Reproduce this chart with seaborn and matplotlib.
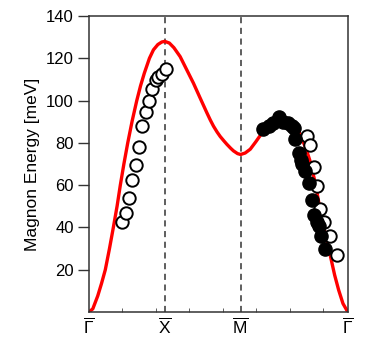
import numpy as np
import pandas as pd
import matplotlib
matplotlib.use('Agg')
import matplotlib.pyplot as plt
from matplotlib.ticker import MultipleLocator
import seaborn as sns

# 路径坐标：Γ=0, X=1, M=2, Γ=2+√2
sym_pos = [0.0, 1.0, 2.0, 3.414]
sym_labels = [r'$\overline{\Gamma}$', r'$\overline{\mathrm{X}}$', r'$\overline{\mathrm{M}}$', r'$\overline{\Gamma}$']

# 理论色散曲线
curve_q = [0.0, 0.05, 0.115, 0.165, 0.215, 0.27, 0.321, 0.37, 0.413, 0.46, 0.511, 0.57, 0.63,
           0.68, 0.73, 0.797, 0.85, 0.908, 0.96, 1.0,
           1.06, 1.12, 1.202, 1.29, 1.378, 1.466, 1.555, 1.60, 1.642, 1.69, 1.731, 1.78, 1.819,
           1.87, 1.906, 1.96, 2.0,
           2.06, 2.127, 2.2, 2.259, 2.33, 2.4, 2.48, 2.56, 2.63, 2.70, 2.765, 2.82, 2.87,
           2.919, 2.985, 3.042, 3.09, 3.14, 3.184, 3.24, 3.293, 3.35, 3.414]
curve_E = [0.0, 1.5, 7.6, 13.5, 20.0, 30.0, 40.0, 50.0, 60.0, 70.0, 80.0, 90.5, 100.0,
           107.0, 113.0, 120.0, 124.0, 126.5, 127.7, 128.0,
           127.2, 125.0, 120.8, 114.5, 108.2, 101.2, 94.2, 90.8, 87.9, 85.1, 83.0, 80.9, 79.3,
           77.4, 76.2, 74.9, 74.5,
           75.2, 77.0, 80.5, 83.5, 87.0, 89.8, 91.6, 92.2, 91.3, 89.0, 85.5, 81.0, 76.5,
           71.0, 61.0, 49.5, 41.0, 33.5, 26.5, 17.5, 10.4, 4.0, 0.0]

# 空心圆：Γ-X 方向
open_left_q = [0.44, 0.485, 0.528, 0.572, 0.617, 0.66, 0.704, 0.749, 0.793, 0.836, 0.881, 0.915, 0.96, 1.013]
open_left_E = [42.6, 47.0, 53.8, 62.6, 69.7, 77.9, 87.8, 94.6, 99.8, 105.3, 109.6, 111.2, 112.8, 115.0]

# 空心圆：M-Γ 方向
open_right_q = [2.876, 2.919, 2.968, 3.012, 3.051, 3.10, 3.184, 3.267]
open_right_E = [83.2, 78.8, 68.8, 59.8, 48.8, 42.7, 35.8, 26.8]

# 实心圆：M-Γ 方向
filled_q = [2.299, 2.369, 2.424, 2.501, 2.563, 2.622, 2.675, 2.701, 2.715, 2.765, 2.791, 2.814,
            2.847, 2.897, 2.939, 2.968, 3.008, 3.029, 3.065, 3.118]
filled_E = [86.6, 88.2, 89.3, 92.4, 90.0, 89.5, 88.0, 87.0, 81.7, 75.0, 71.9, 70.0,
            66.9, 61.0, 53.0, 45.9, 42.5, 40.7, 36.0, 30.0]

sns.set_style('ticks')
plt.rcParams['font.family'] = ['Liberation Sans', 'DejaVu Sans']
plt.rcParams['mathtext.fontset'] = 'custom'
plt.rcParams['mathtext.rm'] = 'Liberation Sans'
plt.rcParams['mathtext.it'] = 'Liberation Sans'
plt.rcParams['text.color'] = 'black'
plt.rcParams['axes.labelcolor'] = 'black'
plt.rcParams['xtick.color'] = 'black'
plt.rcParams['ytick.color'] = 'black'

fig = plt.figure(figsize=(3.74, 3.44), dpi=100)
ax = fig.add_axes([0.238, 0.093, 0.692, 0.8605])

for q in sym_pos[1:3]:
    ax.axvline(q, color='#333333', linestyle=(0, (4, 3)), linewidth=1.1, zorder=1)

df_curve = pd.DataFrame({'q': curve_q, 'E': curve_E})
sns.lineplot(data=df_curve, x='q', y='E', color='#ff0000', linewidth=2.4, ax=ax,
             sort=False, zorder=2)

df_open = pd.DataFrame({'q': open_left_q + open_right_q, 'E': open_left_E + open_right_E})
sns.scatterplot(data=df_open, x='q', y='E', s=80, facecolor='white', edgecolor='black',
                linewidth=1.4, ax=ax, zorder=3)

df_fill = pd.DataFrame({'q': filled_q, 'E': filled_E})
sns.scatterplot(data=df_fill, x='q', y='E', s=90, color='black', edgecolor='black',
                linewidth=1.0, ax=ax, zorder=4)

ax.set_xlim(0, 3.414)
ax.set_ylim(0, 140)
ax.set_xticks(sym_pos)
ax.set_xticklabels(sym_labels, fontsize=12.5)
ax.xaxis.set_minor_locator(MultipleLocator(0.441))
ax.tick_params(axis='x', which='major', length=0, pad=3)
ax.tick_params(axis='x', which='minor', direction='in', length=3, color='#444444')
ax.set_yticks(np.arange(20, 141, 20))
ax.tick_params(axis='y', which='major', direction='out', length=8, width=1, labelsize=12,
               color='#333333', pad=3)
ax.set_xlabel('')
ax.set_ylabel('Magnon Energy [meV]', fontsize=12.5, labelpad=4)

for sp in ax.spines.values():
    sp.set_color('#333333')
    sp.set_linewidth(1.1)

fig.savefig('out.png', dpi=100)
